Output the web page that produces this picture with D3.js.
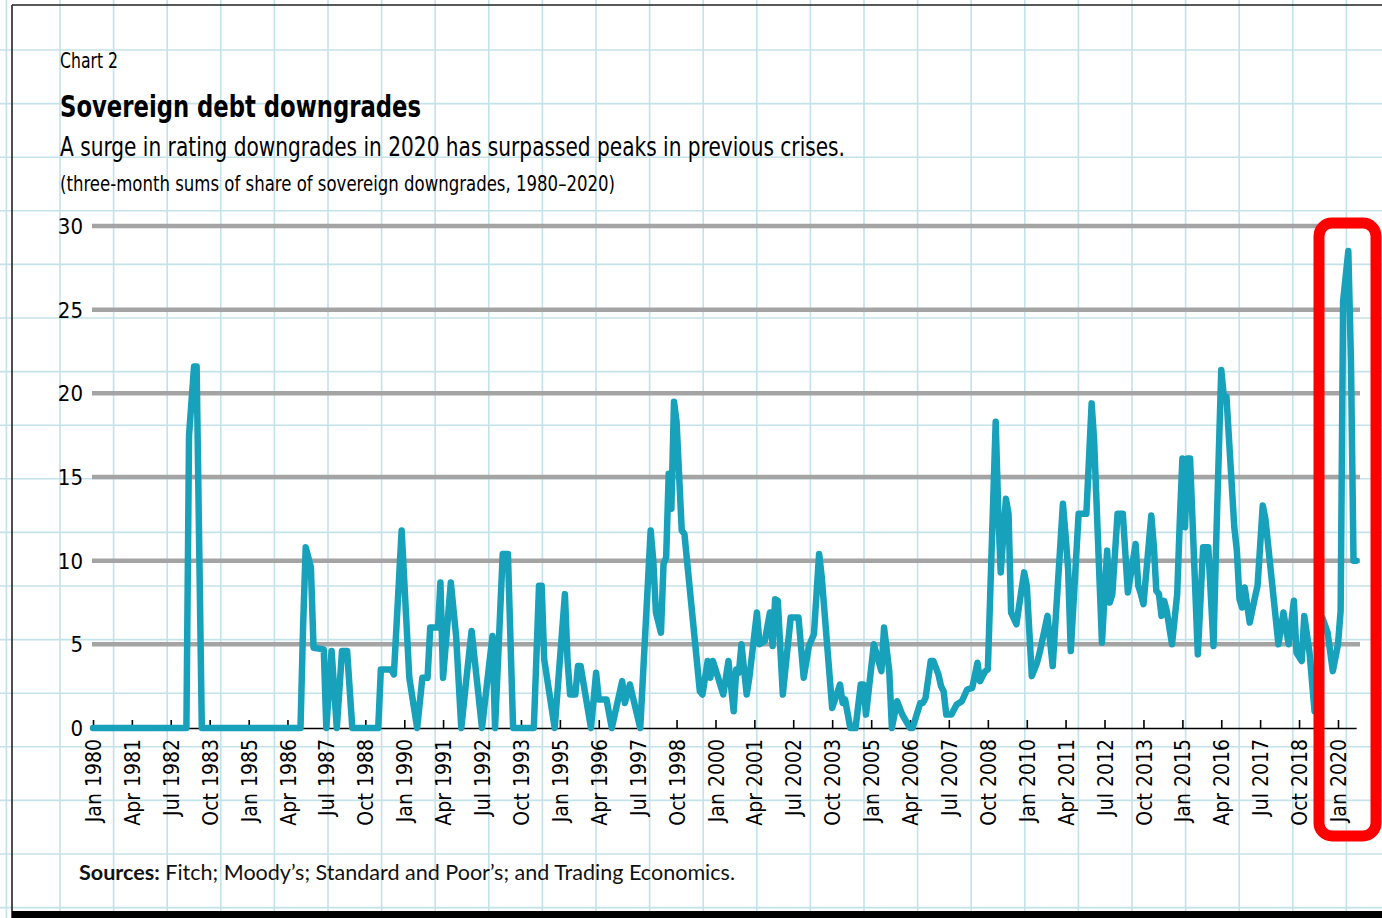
<!DOCTYPE html>
<html>
<head>
<meta charset="utf-8">
<script src="https://cdn.jsdelivr.net/npm/d3@7"></script>
<style>
  html, body { margin: 0; padding: 0; background: #fff; }
  svg { display: block; }
  .narrow { font-family: "Liberation Sans Narrow", "DejaVu Sans Condensed", "Roboto", sans-serif; }
</style>
</head>
<body>
<svg id="chart" width="1382" height="918"></svg>
<script>
// ---------------- DATA ----------------
const yTicks = [0, 5, 10, 15, 20, 25, 30];
const tickLabels = ["Jan 1980","Apr 1981","Jul 1982","Oct 1983","Jan 1985","Apr 1986","Jul 1987","Oct 1988",
  "Jan 1990","Apr 1991","Jul 1992","Oct 1993","Jan 1995","Apr 1996","Jul 1997","Oct 1998","Jan 2000",
  "Apr 2001","Jul 2002","Oct 2003","Jan 2005","Apr 2006","Jul 2007","Oct 2008","Jan 2010","Apr 2011",
  "Jul 2012","Oct 2013","Jan 2015","Apr 2016","Jul 2017","Oct 2018","Jan 2020"];
// turning points of the monthly series (month, three-month sum of share of downgrades)
const months = [
 "1980-01","1983-01","1983-02","1983-04","1983-05","1983-07","1986-09","1986-10","1986-11","1987-01",
 "1987-02","1987-06","1987-07","1987-09","1987-11","1988-01","1988-03","1988-05","1989-03","1989-04",
 "1989-08","1989-09","1989-12","1990-03","1990-06","1990-08","1990-10","1990-11","1991-02","1991-03",
 "1991-04","1991-07","1991-09","1991-11","1992-01","1992-03","1992-05","1992-07","1992-09","1992-11",
 "1992-12","1993-03","1993-05","1993-07","1994-03","1994-05","1994-06","1994-07","1994-11","1995-03",
 "1995-04","1995-05","1995-07","1995-08","1995-09","1996-01","1996-03","1996-04","1996-07","1996-09",
 "1997-01","1997-02","1997-04","1997-08","1997-12","1998-01","1998-02","1998-04","1998-05","1998-06",
 "1998-07","1998-08","1998-09","1998-10","1998-12","1999-01","1999-07","1999-08","1999-10","1999-11",
 "1999-12","2000-02","2000-04","2000-06","2000-08","2000-09","2000-10","2000-11","2001-01","2001-02",
 "2001-05","2001-06","2001-08","2001-10","2001-11","2001-12","2002-01","2002-03","2002-06","2002-09",
 "2002-11","2003-01","2003-03","2003-05","2003-06","2003-10","2004-01","2004-02","2004-03","2004-05",
 "2004-07","2004-09","2004-10","2004-11","2005-02","2005-05","2005-06","2005-08","2005-09","2005-11",
 "2006-01","2006-04","2006-05","2006-08","2006-09","2006-10","2006-12","2007-01","2007-03","2007-04",
 "2007-05","2007-06","2007-08","2007-10","2007-12","2008-02","2008-04","2008-06","2008-07","2008-09",
 "2008-10","2009-01","2009-02","2009-03","2009-05","2009-06","2009-07","2009-09","2009-11","2009-12",
 "2010-01","2010-03","2010-05","2010-06","2010-09","2010-11","2011-03","2011-04","2011-05","2011-06",
 "2011-08","2011-09","2011-12","2012-02","2012-03","2012-06","2012-08","2012-09","2012-10","2012-12",
 "2013-02","2013-04","2013-07","2013-08","2013-09","2013-10","2014-01","2014-02","2014-03","2014-04",
 "2014-05","2014-06","2014-07","2014-09","2014-11","2014-12","2015-01","2015-02","2015-03","2015-04",
 "2015-07","2015-09","2015-11","2016-01","2016-02","2016-04","2016-05","2016-06","2016-09","2016-10",
 "2016-11","2016-12","2017-01","2017-03","2017-05","2017-06","2017-08","2017-09","2018-02","2018-04",
 "2018-06","2018-08","2018-09","2018-11","2018-12","2019-02","2019-04","2019-07","2019-09","2019-11",
 "2020-01","2020-02","2020-03","2020-05","2020-06","2020-07","2020-08"];
const values = [
 0,0,17.5,21.6,21.6,0,0,6.0,10.8,9.6,
 4.8,4.7,0,4.6,0,4.6,4.6,0,0,3.5,
 3.5,3.2,11.8,3.0,0,3.0,3.0,6.0,6.0,8.7,
 3.0,8.7,5.5,0,3.0,5.8,2.9,0,2.8,5.5,
 0,10.4,10.4,0,0,8.5,8.5,4.1,0,8.0,
 4.0,2.0,2.0,3.7,3.7,0,3.3,1.7,1.7,0,
 2.8,1.5,2.6,0,11.8,10.0,6.9,5.7,9.8,10.2,
 15.2,13.1,19.5,18.3,11.8,11.6,2.2,2.0,4.0,3.0,
 4.0,3.0,2.0,4.0,1.0,3.5,3.3,5.0,2.0,3.0,
 6.9,5.0,5.2,6.9,4.9,7.7,7.6,2.0,6.6,6.6,
 3.0,4.9,5.6,10.4,9.0,1.2,2.6,1.5,1.7,0,
 0,2.6,2.6,0.8,5.0,3.4,6.0,3.4,0,1.6,
 0.8,0,0,1.5,1.5,1.8,4.0,4.0,3.2,2.5,
 2.2,0.8,0.8,1.4,1.6,2.3,2.4,3.9,2.8,3.4,
 3.5,18.3,12.8,9.3,13.7,12.8,6.9,6.2,8.3,9.3,
 8.5,3.1,3.9,4.5,6.7,3.7,13.4,11.5,9.5,4.6,
 10.0,12.8,12.8,19.4,17.2,5.1,10.6,7.5,8.0,12.8,
 12.8,8.1,11.0,8.5,8.0,7.4,12.7,10.8,8.2,8.0,
 6.7,7.6,7.0,5.0,8.0,12.3,16.1,12.0,16.1,16.1,
 4.4,10.8,10.8,4.9,11.0,21.4,19.8,19.8,12.0,10.6,
 7.7,7.2,8.4,6.3,7.8,8.5,13.3,12.5,5.0,6.9,
 5.0,7.6,4.5,4.0,6.7,4.5,1.0,6.6,5.7,3.4,
 5.0,7.0,25.5,28.5,22.0,10.0,10.0];

const titleLines = {
  chart: "Chart 2",
  title: "Sovereign debt downgrades",
  subtitle: "A surge in rating downgrades in 2020 has surpassed peaks in previous crises.",
  note: "(three-month sums of share of sovereign downgrades, 1980\u20132020)",
  sourceLabel: "Sources:",
  sourceText: " Fitch; Moody\u2019s; Standard and Poor\u2019s; and Trading Economics."
};

// ---------------- DRAW ----------------
const W = 1382, H = 918;
const svg = d3.select("#chart");
const parseM = d3.timeParse("%Y-%m");
const parseT = d3.timeParse("%b %Y");

// background graph-paper grid
const gridStep = 53.6;
const bg = svg.append("g");
bg.append("rect").attr("width", W).attr("height", H).attr("fill", "#ffffff");
const vx = d3.range(6.4, W, gridStep), hy = d3.range(-3.6, H, gridStep);
bg.selectAll("line.v").data(vx).join("line").attr("class","v")
  .attr("x1", d => d).attr("x2", d => d).attr("y1", 0).attr("y2", H)
  .attr("stroke", "#c4e2e9").attr("stroke-width", 1.6);
bg.selectAll("line.h").data(hy).join("line").attr("class","h")
  .attr("y1", d => d).attr("y2", d => d).attr("x1", 0).attr("x2", W)
  .attr("stroke", "#c4e2e9").attr("stroke-width", 1.6);

// frame
svg.append("line").attr("x1", 12).attr("x2", W).attr("y1", 5).attr("y2", 5)
  .attr("stroke", "#222").attr("stroke-width", 1.6);
svg.append("line").attr("x1", 12).attr("x2", 12).attr("y1", 5).attr("y2", H)
  .attr("stroke", "#222").attr("stroke-width", 1.6);
svg.append("rect").attr("x", 12).attr("y", 911).attr("width", W - 12).attr("height", 7).attr("fill", "#000");

// scales
const x0 = 93, xJan2020 = 1338;
const dStart = new Date(1980, 0, 1), dRef = new Date(2020, 0, 1), dEnd = new Date(2020, 7, 1);
const xEnd = x0 + (xJan2020 - x0) * (dEnd - dStart) / (dRef - dStart);
const x = d3.scaleTime().domain([dStart, dEnd]).range([x0, xEnd]);
const y = d3.scaleLinear().domain([0, 30]).range([728, 226]);

// horizontal gray gridlines
svg.append("g").selectAll("line").data(yTicks.filter(d => d > 0)).join("line")
  .attr("x1", 92).attr("x2", 1360).attr("y1", d => y(d)).attr("y2", d => y(d))
  .attr("stroke", "#a4a4a4").attr("stroke-width", 4.5);

// y labels
svg.append("g").attr("class", "narrow").selectAll("text").data(yTicks).join("text")
  .attr("x", 83).attr("y", d => y(d)).attr("dy", "0.36em")
  .attr("text-anchor", "end").attr("font-size", 22).attr("fill", "#000")
  .text(d => d);

// x axis
const xAxis = d3.axisBottom(x)
  .tickValues(tickLabels.map(parseT))
  .tickSizeInner(-8).tickSizeOuter(0)
  .tickFormat((d, i) => tickLabels[i]);
const gx = svg.append("g").attr("transform", `translate(0,${y(0)})`).call(xAxis);
gx.select(".domain").attr("stroke", "#000").attr("stroke-width", 1.6);
gx.selectAll(".tick line").attr("stroke", "#000").attr("stroke-width", 1.6);
gx.selectAll(".tick text")
  .attr("class", "narrow")
  .attr("transform", "rotate(-90)")
  .attr("x", -11).attr("y", 0).attr("dy", "0.36em")
  .attr("text-anchor", "end")
  .attr("font-size", 21).attr("fill", "#000")
  .attr("font-family", null);

// data line
const series = months.map((m, i) => ({ date: parseM(m), value: values[i] }));
svg.append("path").datum(series)
  .attr("fill", "none").attr("stroke", "#17a1bb").attr("stroke-width", 6.5)
  .attr("stroke-linejoin", "round").attr("stroke-linecap", "round")
  .attr("d", d3.line().x(d => x(d.date)).y(d => y(d.value)));

// titles
function fitText(sel, width) {
  sel.attr("textLength", width).attr("lengthAdjust", "spacingAndGlyphs");
}
const tg = svg.append("g").attr("class", "narrow").attr("fill", "#000");
fitText(tg.append("text").attr("x", 60).attr("y", 68).attr("font-size", 21).text(titleLines.chart), 58);
fitText(tg.append("text").attr("x", 60).attr("y", 117).attr("font-size", 30).attr("font-weight", "bold").text(titleLines.title), 361);
fitText(tg.append("text").attr("x", 60).attr("y", 156).attr("font-size", 27).text(titleLines.subtitle), 785);
fitText(tg.append("text").attr("x", 60).attr("y", 191).attr("font-size", 21).text(titleLines.note), 555);

// sources
const src = svg.append("text").attr("x", 79).attr("y", 880)
  .attr("font-family", "Lato, 'Open Sans', sans-serif").attr("font-size", 21).attr("fill", "#111");
src.append("tspan").attr("font-weight", "bold").text(titleLines.sourceLabel);
src.append("tspan").text(titleLines.sourceText);
fitText(src, 656);

// red highlight box
svg.append("rect").attr("x", 1319).attr("y", 223).attr("width", 57).attr("height", 613)
  .attr("rx", 13).attr("ry", 13)
  .attr("fill", "none").attr("stroke", "#ff0000").attr("stroke-width", 11);
</script>
</body>
</html>
